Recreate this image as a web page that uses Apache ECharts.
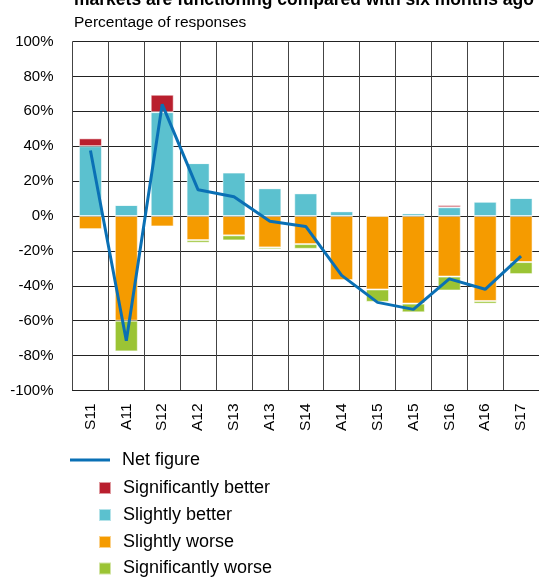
<!DOCTYPE html>
<html>
<head>
<meta charset="utf-8">
<script src="https://cdn.jsdelivr.net/npm/echarts@6/dist/echarts.min.js"></script>
<style>html,body{margin:0;padding:0;background:#fff;}#c{width:539px;height:578px;}</style>
</head>
<body>
<div id="c"></div>
<script>
const categories = ['S11','A11','S12','A12','S13','A13','S14','A14','S15','A15','S16','A16','S17'];
const sigBetter = [4.5, 0, 10, 0, 0, 0, 0, 0, 0, 0, 1.3, 0, 0];
const slightBetter = [40, 6.3, 59.5, 30.3, 24.9, 15.9, 13, 2.7, 0, 1.5, 5, 8.2, 10.3];
const slightWorse = [-7.6, -60, -6, -13.8, -11.1, -18, -16.1, -36.8, -42.1, -50.2, -34.7, -48.7, -26.4];
const sigWorse = [0, -17.6, 0, -1.5, -2.9, -1.1, -2.7, 0, -7.1, -5, -8, -1.5, -6.9];
const netFigure = [37.5, -71.5, 64, 15, 11, -3, -6, -34, -49.5, -53.5, -36, -42, -23];
const legendNames = ['Net figure', 'Significantly better', 'Slightly better', 'Slightly worse', 'Significantly worse'];

const FONT = 'Liberation Sans';
const chart = echarts.init(document.getElementById('c'), null, {renderer: 'canvas'});
const barStyle = (c) => ({color: c, borderColor: 'rgba(255,255,255,0.55)', borderWidth: 1});
const legendText = {fontFamily: FONT, fontSize: 18, color: '#000', padding: [0, 0, 0, 7], lineHeight: 20};
const legendCenters = [460, 488, 515, 542, 568.5];

const legends = legendNames.map((n, i) => i === 0 ? {
  data: [n], orient: 'vertical', left: 70, top: legendCenters[i] - 10, padding: 0,
  itemWidth: 40, itemHeight: 20, icon: 'path://M0,0 L40,0 L40,3 L0,3 Z', textStyle: legendText
} : {
  data: [n], orient: 'vertical', left: 98, top: legendCenters[i] - 10, padding: 0,
  itemWidth: 12, itemHeight: 12, icon: 'rect', textStyle: legendText
});

chart.setOption({
  animation: false,
  backgroundColor: '#fff',
  title: [
    {text: 'markets are functioning compared with six months ago', left: 74, top: -8.5, padding: 0,
     textStyle: {fontFamily: FONT, fontWeight: 'bold', fontSize: 17.5, color: '#000'}},
    {text: 'Percentage of responses', left: 74, top: 15, padding: 0,
     textStyle: {fontFamily: FONT, fontWeight: 'normal', fontSize: 15.5, color: '#000'}}
  ],
  legend: legends,
  grid: {left: 72.5, top: 41.5, width: 468, height: 349, containLabel: false},
  xAxis: {
    type: 'category', data: categories,
    axisLine: {show: true, onZero: false, lineStyle: {color: '#222', width: 1}},
    axisTick: {show: false},
    splitLine: {show: true, interval: 0, lineStyle: {color: '#444', width: 1}},
    axisLabel: {rotate: 90, margin: 13, fontFamily: FONT, fontSize: 15.5, color: '#000', interval: 0}
  },
  yAxis: {
    type: 'value', min: -100, max: 100, interval: 20,
    axisLine: {show: false}, axisTick: {show: false},
    splitLine: {show: true, lineStyle: {color: '#222', width: 1}},
    axisLabel: {formatter: '{value}%', margin: 19, fontFamily: FONT, fontSize: 15, color: '#000'}
  },
  series: [
    {name: 'Slightly better', type: 'bar', stack: 'a', data: slightBetter, barWidth: 23, itemStyle: barStyle('#5BC1CF')},
    {name: 'Significantly better', type: 'bar', stack: 'a', data: sigBetter, itemStyle: barStyle('#B91F2E')},
    {name: 'Slightly worse', type: 'bar', stack: 'a', data: slightWorse, itemStyle: barStyle('#F59B00')},
    {name: 'Significantly worse', type: 'bar', stack: 'a', data: sigWorse, itemStyle: barStyle('#9BC434')},
    {name: 'Net figure', type: 'line', data: netFigure, showSymbol: false, symbol: 'none', z: 10,
     lineStyle: {color: '#0A70B5', width: 3}, itemStyle: {color: '#0A70B5'}}
  ]
});
</script>
</body>
</html>
